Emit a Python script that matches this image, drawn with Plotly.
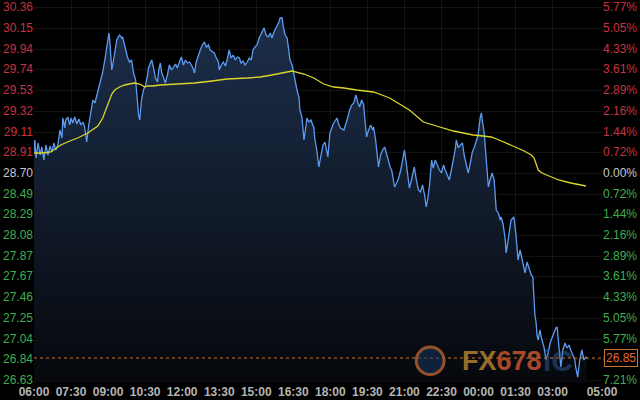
import plotly.graph_objects as go

# ---- data (minutes after 06:00, price) ----
price_minutes = [
    0, 2, 5, 10, 15, 19, 24, 29, 34, 39,
    44, 48, 53, 58, 63, 68, 70, 75, 77, 82,
    87, 90, 94, 99, 104, 109, 114, 119, 123, 128,
    133, 138, 143, 148, 152, 157, 162, 167, 172, 177,
    182, 184, 186, 189, 194, 198, 201, 206, 208, 213,
    215, 220, 223, 227, 232, 237, 242, 247, 249, 252,
    254, 257, 259, 261, 266, 271, 276, 278, 283, 286,
    290, 293, 295, 300, 303, 307, 310, 315, 319, 324,
    329, 334, 339, 344, 348, 353, 358, 363, 368, 373,
    378, 385, 390, 394, 399, 404, 409, 414, 419, 424,
    428, 433, 438, 443, 448, 450, 455, 460, 465, 469,
    474, 479, 484, 489, 494, 499, 503, 508, 513, 518,
    523, 528, 532, 537, 542, 547, 552, 557, 559, 564,
    569, 574, 578, 583, 588, 590, 595, 598, 603, 605,
    610, 615, 620, 622, 627, 632, 634, 639, 644, 646,
    651, 653, 656, 661, 663, 668, 673, 678, 680, 682,
    687, 692, 697, 702, 707, 711, 714, 719, 724, 728,
    733, 736, 741, 745, 753, 757, 762, 767, 772, 777,
    782, 787, 791, 796, 801, 803, 808, 813, 818, 823,
    825, 830, 832, 837, 842, 847, 852, 857, 862, 866,
    869, 874, 876, 881, 886, 891, 895, 900, 905, 908,
    912, 917, 922, 924, 929, 934, 939, 944, 949, 953,
    958, 961, 966, 970, 975, 980, 985, 990, 995, 999,
    1004, 1009, 1014, 1019, 1024, 1026, 1031, 1036, 1041, 1045,
    1050, 1055, 1060, 1065, 1070, 1074, 1079, 1084, 1087, 1089,
    1094, 1096, 1099, 1101, 1104, 1108, 1113, 1118, 1120, 1123,
    1128, 1133, 1135, 1140, 1145, 1147, 1152, 1157, 1159, 1164,
    1166, 1171, 1176, 1181, 1186, 1191, 1193, 1198, 1203, 1208,
    1212, 1215, 1217, 1220, 1222, 1225, 1229, 1234, 1239, 1244,
    1249, 1254, 1258, 1263, 1268, 1271, 1275, 1280, 1285, 1290,
    1295, 1300, 1304, 1309, 1314, 1316, 1321, 1326, 1331, 1336,
    1341, 1343,
]
price_values = [
    28.91, 29.03, 28.85, 29.00, 28.88, 28.96, 28.83, 28.98, 28.88, 28.97,
    28.91, 29.00, 28.93, 28.98, 29.13, 29.05, 29.25, 29.15, 29.23, 29.26,
    29.18, 29.25, 29.20, 29.26, 29.19, 29.24, 29.18, 29.21, 29.16, 29.01,
    29.18, 29.31, 29.43, 29.40, 29.47, 29.53, 29.65, 29.71, 29.83, 29.95,
    30.10, 30.03, 29.91, 29.73, 29.85, 29.98, 30.03, 30.07, 30.08, 30.05,
    30.06, 29.98, 29.93, 29.86, 29.81, 29.83, 29.70, 29.63, 29.53, 29.36,
    29.28, 29.23, 29.35, 29.43, 29.53, 29.58, 29.68, 29.75, 29.80, 29.83,
    29.76, 29.71, 29.65, 29.61, 29.73, 29.80, 29.71, 29.65, 29.60, 29.68,
    29.78, 29.73, 29.76, 29.79, 29.75, 29.81, 29.86, 29.78, 29.83, 29.80,
    29.81, 29.76, 29.70, 29.81, 29.88, 29.93, 29.98, 30.01, 29.96, 29.98,
    29.93, 29.91, 29.90, 29.85, 29.81, 29.73, 29.78, 29.81, 29.77, 29.83,
    29.93, 29.85, 29.88, 29.83, 29.86, 29.85, 29.80, 29.82, 29.78, 29.81,
    29.85, 29.83, 29.93, 29.96, 29.98, 30.05, 30.09, 30.13, 30.15, 30.08,
    30.06, 30.10, 30.05, 30.11, 30.15, 30.16, 30.21, 30.25, 30.25, 30.18,
    30.08, 30.05, 29.90, 29.83, 29.78, 29.66, 29.63, 29.53, 29.45, 29.33,
    29.26, 29.18, 29.03, 29.18, 29.25, 29.21, 29.23, 29.17, 29.16, 29.05,
    28.93, 28.76, 28.88, 28.98, 29.01, 28.93, 28.86, 29.10, 29.15, 29.20,
    29.23, 29.25, 29.18, 29.15, 29.13, 29.18, 29.25, 29.33, 29.38, 29.40,
    29.48, 29.40, 29.36, 29.43, 29.38, 29.28, 29.06, 29.13, 29.18, 29.13,
    29.16, 29.03, 28.96, 28.76, 28.88, 28.93, 28.96, 28.88, 28.83, 28.75,
    28.73, 28.63, 28.56, 28.60, 28.65, 28.73, 28.83, 28.93, 28.78, 28.68,
    28.55, 28.63, 28.73, 28.76, 28.63, 28.53, 28.51, 28.58, 28.48, 28.36,
    28.48, 28.58, 28.83, 28.75, 28.83, 28.77, 28.73, 28.70, 28.78, 28.73,
    28.68, 28.63, 28.73, 28.83, 28.95, 29.03, 28.95, 28.98, 29.00, 28.88,
    28.78, 28.70, 28.80, 28.91, 28.96, 29.01, 29.08, 29.25, 29.30, 29.23,
    29.10, 28.98, 28.83, 28.68, 28.56, 28.63, 28.70, 28.63, 28.48, 28.33,
    28.30, 28.23, 28.26, 28.18, 28.03, 27.90, 28.03, 28.15, 28.23, 28.25,
    28.26, 28.08, 27.83, 27.93, 27.83, 27.75, 27.70, 27.81, 27.75, 27.68,
    27.66, 27.43, 27.28, 27.20, 27.08, 27.03, 27.13, 27.03, 26.96, 26.83,
    26.90, 27.00, 27.05, 27.10, 27.15, 27.16, 26.98, 26.76, 26.93, 27.00,
    26.95, 26.98, 26.93, 26.88, 26.83, 26.76, 26.66, 26.83, 26.93, 26.83,
    26.86, 26.85,
]

ma_minutes = [
    0, 22, 41, 65, 87, 106, 131, 155, 167, 174,
    182, 189, 196, 208, 220, 232, 244, 257, 264, 269,
    276, 288, 307, 348, 390, 433, 469, 518, 549, 578,
    598, 615, 627, 639, 656, 680, 704, 728, 753, 784,
    825, 845, 864, 888, 912, 929, 946, 970, 995, 1019,
    1043, 1067, 1091, 1111, 1130, 1152, 1171, 1191, 1208, 1215,
    1220, 1225, 1234, 1251, 1275, 1304, 1324, 1341,
]
ma_values = [
    28.90, 28.90, 28.91, 28.98, 29.02, 29.05, 29.10, 29.17, 29.25, 29.33,
    29.43, 29.49, 29.53, 29.56, 29.58, 29.59, 29.60, 29.59, 29.57, 29.56,
    29.57, 29.57, 29.58, 29.59, 29.60, 29.62, 29.64, 29.65, 29.66, 29.68,
    29.70, 29.71, 29.72, 29.71, 29.69, 29.65, 29.59, 29.56, 29.55, 29.53,
    29.51, 29.48, 29.45, 29.39, 29.33, 29.27, 29.21, 29.18, 29.15, 29.12,
    29.10, 29.08, 29.07, 29.06, 29.03, 28.99, 28.96, 28.92, 28.88, 28.85,
    28.79, 28.73, 28.70, 28.67, 28.63, 28.60, 28.58, 28.57,
]

price_tick_values = [30.36, 30.15, 29.94, 29.74, 29.53, 29.32, 29.11, 28.91, 28.70,
                     28.49, 28.29, 28.08, 27.87, 27.67, 27.46, 27.25, 27.04, 26.84, 26.63]
pct_tick_labels = ["5.77%", "5.05%", "4.33%", "3.61%", "2.89%", "2.16%", "1.44%", "0.72%", "0.00%",
                   "0.72%", "1.44%", "2.16%", "2.89%", "3.61%", "4.33%", "5.05%", "5.77%", "6.49%", "7.21%"]
time_tick_minutes = [0, 90, 180, 270, 360, 450, 540, 630, 720, 810, 900, 990, 1080, 1170, 1260, 1380]
time_tick_labels = ["06:00", "07:30", "09:00", "10:30", "12:00", "13:30", "15:00", "16:30",
                    "18:00", "19:30", "21:00", "22:30", "00:00", "01:30", "03:00", "05:00"]
reference_price = 28.70
last_price = 26.85

# ---- styling ----
RED = "#c8323e"
GREEN = "#3fae4f"
NEUTRAL = "#c8c8c8"
X_RANGE = [0, 1380]
Y_RANGE = [26.60, 30.43]


def tick_color(v):
    if v > reference_price + 1e-9:
        return RED
    if v < reference_price - 1e-9:
        return GREEN
    return NEUTRAL


left_text = [f'<span style="color:{tick_color(v)}">{v:.2f}</span>' for v in price_tick_values]
right_text = [f'<span style="color:{tick_color(v)}">{t}</span>'
              for v, t in zip(price_tick_values, pct_tick_labels)]

fig = go.Figure()

fig.add_trace(go.Scatter(
    x=price_minutes, y=price_values, mode="lines",
    line=dict(color="#5b9cf0", width=1.3),
    fill="tozeroy",
    fillgradient=dict(type="vertical", start=Y_RANGE[0], stop=30.3,
                      colorscale=[[0, "#06080c"], [1, "#1d2f4c"]]),
    hoverinfo="skip", showlegend=False,
))
fig.add_trace(go.Scatter(
    x=ma_minutes, y=ma_values, mode="lines",
    line=dict(color="#d9d52b", width=1.3),
    hoverinfo="skip", showlegend=False,
))
# invisible trace to carry the right-hand percentage axis
fig.add_trace(go.Scatter(
    x=price_minutes, y=price_values, yaxis="y2", mode="lines",
    line=dict(width=0, color="rgba(0,0,0,0)"),
    hoverinfo="skip", showlegend=False,
))

grid = "rgba(255,255,255,0.07)"
fig.update_layout(
    width=640, height=400,
    margin=dict(l=34, r=38, t=0, b=17, autoexpand=False),
    paper_bgcolor="#000000", plot_bgcolor="#000000",
    font=dict(family="Liberation Sans, Arial, sans-serif", size=12),
    xaxis=dict(
        range=X_RANGE, tickmode="array", tickvals=time_tick_minutes, ticktext=time_tick_labels,
        showgrid=True, gridcolor=grid, gridwidth=1, zeroline=False, showline=False,
        ticks="", tickfont=dict(color="#b4b4b4", size=12, weight="bold"), automargin=False,
    ),
    yaxis=dict(
        range=Y_RANGE, tickmode="array", tickvals=price_tick_values, ticktext=left_text,
        showgrid=True, gridcolor=grid, zeroline=False, showline=False, ticks="",
        tickfont=dict(size=12), side="left", automargin=False,
    ),
    yaxis2=dict(
        range=Y_RANGE, overlaying="y", side="right", tickmode="array",
        tickvals=price_tick_values, ticktext=right_text,
        showgrid=False, zeroline=False, showline=False, ticks="",
        tickfont=dict(size=12), automargin=False,
    ),
    shapes=[
        dict(type="line", xref="paper", x0=0, x1=1, yref="y", y0=last_price, y1=last_price,
             line=dict(color="#c8782e", width=1, dash="dot")),
        # watermark logo ring
        dict(type="circle", xref="paper", yref="paper",
             x0=0.673, x1=0.722, y0=0.022, y1=0.094,
             line=dict(color="rgba(176,92,40,0.85)", width=3),
             fillcolor="rgba(24,52,96,0.55)"),
    ],
    annotations=[
        dict(xref="paper", yref="paper", x=0.750, y=0.058, xanchor="left", yanchor="middle",
             text='<span style="color:#a8782e">FX</span><span style="color:#b8502c">678</span>',
             showarrow=False, opacity=0.9,
             font=dict(family="Liberation Sans Narrow, Liberation Sans, sans-serif",
                       size=27, weight="bold")),
        dict(xref="paper", yref="paper", x=0.893, y=0.058, xanchor="left", yanchor="middle",
             text="iC", showarrow=False, opacity=0.5,
             font=dict(family="Liberation Sans, sans-serif", size=30, weight="bold",
                       color="#2f5e94")),
        dict(xref="paper", x=1.0, xanchor="left", xshift=2, yref="y", y=last_price,
             yanchor="middle", text=f"{last_price:.2f}", showarrow=False,
             font=dict(color="#e8642c", size=12),
             bgcolor="#000000", bordercolor="#c8782e", borderwidth=1, borderpad=1),
    ],
)

fig.write_html(
    "out.html",
    config={"displayModeBar": False},
    post_script="document.body.style.margin='0';document.body.style.background='#000';",
)
